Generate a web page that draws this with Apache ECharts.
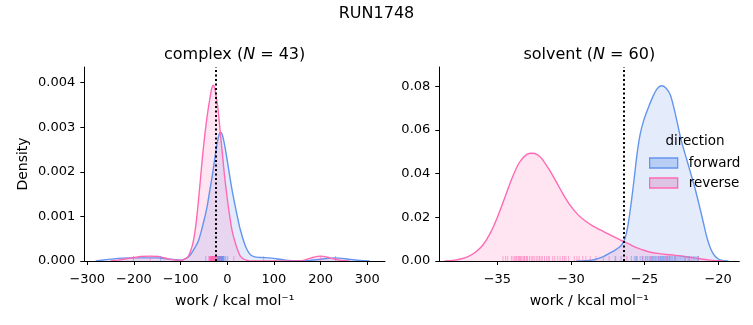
<!DOCTYPE html>
<html><head><meta charset="utf-8">
<script src="https://cdn.jsdelivr.net/npm/echarts@6/dist/echarts.min.js"></script>
<style>html,body{margin:0;padding:0;background:#fff}#c{width:753px;height:325px}</style>
</head><body><div id="c"></div>
<script>
// ---------------- data ----------------
const suptitle = 'RUN1748';
const panelNames = ['complex', 'solvent'];
const panelN = [43, 60];
const directions = ['forward', 'reverse'];
const xAxisLabel = 'work / kcal mol\u207B\u00B9';
const yAxisLabel = 'Density';

const complexXTicks = [-300, -200, -100, 0, 100, 200, 300];
const complexYTicks = [0, 0.001, 0.002, 0.003, 0.004];
const solventXTicks = [-35, -30, -25, -20];
const solventYTicks = [0, 0.02, 0.04, 0.06, 0.08];

// dotted reference lines (work value)
const complexRef = -25;
const solventRef = -26.42;

// KDE curves: [work, density]
const complexForwardKde = [
  [-282, 0], [-260, 0.00003], [-235, 0.00006], [-213, 0.00007], [-180, 0.00007], [-150, 0.00007],
  [-130, 0.00005], [-112, 0.00003], [-100, 0.00002], [-92, 0.00004], [-85, 0.00008], [-79, 0.00014],
  [-71, 0.00027], [-62, 0.00045], [-53, 0.00078], [-44, 0.00118], [-38, 0.00155], [-32, 0.00192],
  [-26.5, 0.00232], [-21.5, 0.00265], [-17.5, 0.00284], [-14.4, 0.00289], [-11, 0.00284], [-7, 0.00267],
  [-1, 0.00232], [5, 0.00192], [11, 0.00155], [18, 0.00118], [28, 0.0007], [39, 0.00033], [48, 0.00016],
  [57, 0.0001], [70, 0.00008], [89, 0.00007], [105, 0.00005], [125, 0.00002], [150, 0.000005],
  [175, 0.00001], [200, 0.00004], [232, 0.00007], [260, 0.00004], [285, 0.00001], [305, 0]
];
const complexReverseKde = [
  [-250, 0], [-235, 0.00002], [-210, 0.00006], [-185, 0.0001], [-166, 0.00011], [-148, 0.0001],
  [-128, 0.00005], [-110, 0.00002], [-98, 0.00002], [-90, 0.00005], [-84, 0.0001], [-78, 0.00024],
  [-73, 0.00043], [-68, 0.00075], [-64, 0.00112], [-60, 0.00155], [-56.5, 0.00195], [-53, 0.00235],
  [-49, 0.00275], [-45, 0.0031], [-40.7, 0.00342], [-36, 0.00372], [-33, 0.00388], [-30, 0.00394],
  [-27, 0.00388], [-24, 0.0037], [-20, 0.00342], [-16.5, 0.00305], [-13, 0.00267], [-9.5, 0.0023],
  [-6, 0.00192], [-1, 0.00148], [3.6, 0.00112], [10, 0.0007], [18, 0.00038], [28, 0.00011], [40, 0.00002],
  [60, 0], [150, 0], [165, 0.00002], [180, 0.00007], [200, 0.00011], [220, 0.00007], [245, 0.00001], [262, 0]
];
const solventForwardKde = [
  [-29.6, 0], [-29, 0.0001], [-28.3, 0.0008], [-27.8, 0.002], [-27.4, 0.0035], [-27.0, 0.005],
  [-26.7, 0.0064], [-26.5, 0.008], [-26.3, 0.011], [-26.1, 0.0175], [-25.9, 0.027], [-25.7, 0.038],
  [-25.5, 0.0495], [-25.3, 0.058], [-25.05, 0.0645], [-24.75, 0.07], [-24.45, 0.075], [-24.15, 0.0788],
  [-23.85, 0.0802], [-23.55, 0.0792], [-23.25, 0.076], [-23.0, 0.07], [-22.75, 0.0625], [-22.5, 0.055],
  [-22.2, 0.048], [-21.9, 0.041], [-21.6, 0.034], [-21.3, 0.026], [-21.0, 0.0175], [-20.75, 0.0105],
  [-20.5, 0.0055], [-20.25, 0.0025], [-19.95, 0.0008], [-19.6, 0.0001], [-19.3, 0]
];
const solventReverseKde = [
  [-38.6, 0], [-38.0, 0.0003], [-37.5, 0.0009], [-37.0, 0.002], [-36.5, 0.004], [-36.0, 0.0072],
  [-35.5, 0.0125], [-35.0, 0.02], [-34.5, 0.029], [-34.0, 0.038], [-33.5, 0.0452], [-33.0, 0.0488],
  [-32.64, 0.0493], [-32.3, 0.0487], [-32.0, 0.047], [-31.5, 0.042], [-31.0, 0.0362], [-30.5, 0.0302],
  [-30.0, 0.025], [-29.5, 0.021], [-29.0, 0.0182], [-28.5, 0.016], [-28.0, 0.0142], [-27.5, 0.0125],
  [-27.0, 0.0108], [-26.5, 0.0092], [-26.0, 0.0076], [-25.5, 0.006], [-25.0, 0.0048], [-24.5, 0.0039],
  [-24.0, 0.0034], [-23.5, 0.003], [-23.0, 0.0027], [-22.5, 0.0023], [-22.0, 0.0018], [-21.5, 0.0013],
  [-21.0, 0.0008], [-20.5, 0.0004], [-20.0, 0.0001], [-19.6, 0]
];

// rug (individual work values)
const complexForwardRug = [-201, -143, -46, -30, -22, -21.2, -20.6, -20, -19.4, -19, -18.3, -18, -17.6, -17, -16.8,
  -16.4, -16, -15.7, -15.2, -15, -14.7, -14.1, -14, -13.6, -13.1, -13, -12.4, -12, -11.7, -11.5, -11, -10.4,
  -10, -9.6, -9, -8.5, -8, -7, -5, -3, 1, 78, 232];
const complexReverseRug = [-165, -40, -38, -37.2, -36.5, -36, -35.4, -35, -34.7, -34.1, -34, -33.5, -33.2, -33,
  -32.7, -32.2, -32, -31.8, -31.3, -31, -30.8, -30.3, -30, -29.7, -29.5, -29, -28.6, -28.2, -28, -27.5, -27.3,
  -27, -26.6, -26.1, -25.8, -25.3, -25, -24.5, -23, -20, -15, 14, 200];
const solventForwardRug = [-27.0, -26.6, -25.9, -25.7, -25.55, -25.5, -25.3, -25.15, -25.1, -24.95, -24.9, -24.8,
  -24.7, -24.62, -24.55, -24.45, -24.4, -24.33, -24.25, -24.2, -24.1, -24.05, -24.0, -23.92, -23.9, -23.84,
  -23.78, -23.75, -23.66, -23.6, -23.55, -23.48, -23.45, -23.4, -23.33, -23.3, -23.25, -23.18, -23.1, -23.0,
  -22.95, -22.8, -22.72, -22.6, -22.52, -22.4, -22.3, -22.23, -22.1, -22.0, -21.95, -21.8, -21.7, -21.62,
  -21.5, -21.4, -21.33, -24.5, -23.7, -22.9];
const solventReverseRug = [-34.62, -34.44, -34.3, -34.05, -33.94, -33.85, -33.76, -33.7, -33.6, -33.55, -33.49,
  -33.42, -33.38, -33.27, -33.2, -33.16, -33.05, -33.0, -32.95, -32.82, -32.7, -32.6, -32.5, -32.36, -32.25,
  -32.14, -32.03, -31.95, -31.8, -31.65, -31.55, -31.47, -31.24, -31.1, -30.9, -30.74, -30.57, -30.45, -30.34,
  -30.16, -29.78, -29.6, -29.44, -29.2, -28.99, -28.7, -28.31, -27.8, -27.41, -26.96, -26.2, -25.61, -25.16,
  -24.6, -24.03, -23.5, -22.91, -22.23, -21.9, -21.33];

// ---------------- styling ----------------
const FONT = 'DejaVu Sans';
const BLUE = '#6495ED', PINK = '#FF69B4';
const BLUE_FILL = 'rgba(100,149,237,0.25)', PINK_FILL = 'rgba(255,105,180,0.25)';
const minus = v => String(v).replace('-', '\u2212');

const grids = [
  { left: 84.3, top: 67, width: 300.7, height: 194 },
  { left: 439.3, top: 67, width: 300, height: 194 }
];
const xExt = [[-306.4, 338], [-38.95, -18.56]];
const yExt = [[0, 0.00435], [0, 0.0888]];
const xTicks = [complexXTicks, solventXTicks];
const yTicks = [complexYTicks, solventYTicks];
const yDec = [3, 2];
const refs = [complexRef, solventRef];

const xAxes = [0, 1].map(i => ({
  type: 'value', gridIndex: i, min: xExt[i][0], max: xExt[i][1], z: 5,
  axisLine: { show: true, onZero: false, lineStyle: { color: '#000', width: 1 } },
  axisTick: { show: true, length: 4, lineStyle: { color: '#000', width: 1 }, customValues: xTicks[i] },
  axisLabel: { customValues: xTicks[i], formatter: minus, fontFamily: FONT, fontSize: 13, color: '#000', margin: 12 },
  splitLine: { show: false },
  name: xAxisLabel, nameLocation: 'middle', nameGap: 33,
  nameTextStyle: { fontFamily: FONT, fontSize: 14, color: '#000' }
}));
const yAxes = [0, 1].map(i => ({
  type: 'value', gridIndex: i, min: yExt[i][0], max: yExt[i][1], z: 5,
  axisLine: { show: true, onZero: false, lineStyle: { color: '#000', width: 1 } },
  axisTick: { show: true, length: 4, lineStyle: { color: '#000', width: 1 }, customValues: yTicks[i] },
  axisLabel: { customValues: yTicks[i], formatter: v => v.toFixed(yDec[i]), fontFamily: FONT, fontSize: 13, color: '#000', margin: 9 },
  splitLine: { show: false },
  name: i === 0 ? yAxisLabel : '', nameLocation: 'middle', nameGap: 54,
  nameTextStyle: { fontFamily: FONT, fontSize: 14, color: '#000' }
}));

const kdes = [[complexForwardKde, complexReverseKde], [solventForwardKde, solventReverseKde]];
const rugs = [[complexForwardRug, complexReverseRug], [solventForwardRug, solventReverseRug]];
const cols = [BLUE, PINK], fills = [BLUE_FILL, PINK_FILL];

const series = [];
[0, 1].forEach(p => {
  [0, 1].forEach(d => {
    series.push({
      type: 'line', name: directions[d], xAxisIndex: p, yAxisIndex: p,
      data: kdes[p][d], smooth: 0.3, showSymbol: false, symbol: 'none',
      lineStyle: { color: cols[d], width: 1.4 }, itemStyle: { color: cols[d] },
      areaStyle: { color: fills[d] }, z: 2, silent: true
    });
  });
  [0, 1].forEach(d => {
    series.push({
      type: 'scatter', name: directions[d], xAxisIndex: p, yAxisIndex: p,
      data: rugs[p][d].map(v => [v, 0]), symbol: 'rect', symbolSize: [1, 5], symbolOffset: [0, -2.5],
      itemStyle: { color: cols[d], opacity: 0.55 }, z: 3, silent: true
    });
  });
  series.push({
    type: 'line', name: 'ref' + p, xAxisIndex: p, yAxisIndex: p, data: [], silent: true,
    markLine: {
      symbol: 'none', silent: true, animation: false,
      label: { show: false },
      lineStyle: { color: '#000', width: 2, type: [2, 2.5] },
      emphasis: { disabled: true },
      data: [{ xAxis: refs[p] }]
    }, z: 4
  });
});

const titles = [
  { text: suptitle, left: 376.5, top: 6, textAlign: 'center', padding: 0,
    textStyle: { fontFamily: FONT, fontSize: 16, fontWeight: 'normal', color: '#000' } },
  { text: 'direction', left: 695, top: 134, textAlign: 'center', padding: 0,
    textStyle: { fontFamily: FONT, fontSize: 13.5, fontWeight: 'normal', color: '#000' } }
];
[0, 1].forEach(p => {
  titles.push({
    text: '{a|' + panelNames[p] + ' (}{i|N}{a| = ' + panelN[p] + ')}',
    left: grids[p].left + grids[p].width / 2, top: 47, textAlign: 'center', padding: 0,
    textStyle: {
      fontFamily: FONT, fontSize: 16, fontWeight: 'normal', color: '#000',
      rich: {
        a: { fontFamily: FONT, fontSize: 16, color: '#000' },
        i: { fontFamily: FONT, fontSize: 16, fontStyle: 'italic', color: '#000' }
      }
    }
  });
});

const chart = echarts.init(document.getElementById('c'), null, { renderer: 'canvas' });
chart.setOption({
  animation: false,
  backgroundColor: '#fff',
  title: titles,
  grid: grids,
  xAxis: xAxes,
  yAxis: yAxes,
  legend: {
    orient: 'vertical', left: 649, top: 156, padding: 0, itemWidth: 28, itemHeight: 10, itemGap: 6,
    selectedMode: false,
    textStyle: { fontFamily: FONT, fontSize: 13.5, color: '#000', padding: [0, 0, 0, 6] },
    data: [
      { name: 'forward', icon: 'rect', itemStyle: { color: '#b8cef5', borderColor: BLUE, borderWidth: 1.3 } },
      { name: 'reverse', icon: 'rect', itemStyle: { color: '#dec4e4', borderColor: PINK, borderWidth: 1.3 } }
    ]
  },
  series: series
});
</script></body></html>
